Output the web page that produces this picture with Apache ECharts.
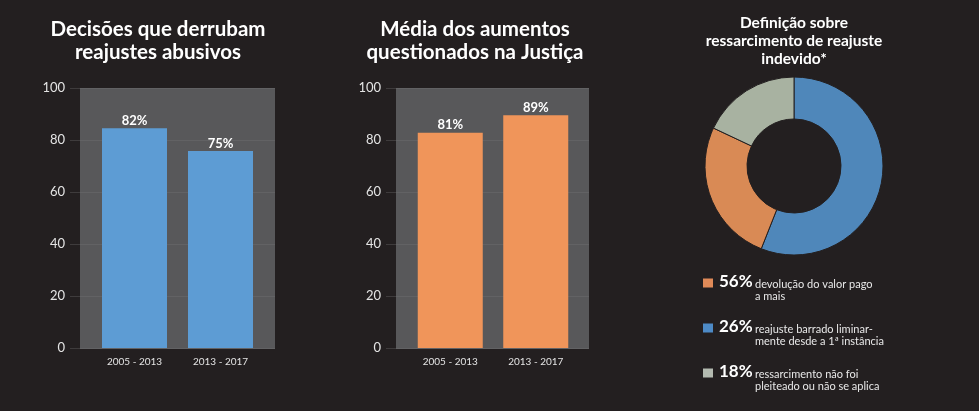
<!DOCTYPE html>
<html>
<head>
    <meta charset="utf-8"/>
    <title>Reajustes abusivos</title>
    <script type="text/javascript" src="https://cdn.jsdelivr.net/npm/echarts@6/dist/echarts.min.js"></script>
    <style>
        html, body { margin: 0; padding: 0; background: #231f20; }
        #main { width: 979px; height: 411px; }
    </style>
</head>
<body>
<div id="main"></div>
<script type="text/javascript">
    // dados
    var categories = ['2005 - 2013', '2013 - 2017'];
    var decisoesValues = [84.5, 75.8];      // altura das barras
    var decisoesLabels = ['82%', '75%'];    // rótulos impressos
    var mediaValues = [82.8, 89.5];
    var mediaLabels = ['81%', '89%'];
    var yMin = 0, yMax = 100, yStep = 20;

    var pieNames = ['devolução do valor pago a mais', 'reajuste barrado liminarmente desde a 1ª instância', 'ressarcimento não foi pleiteado ou não se aplica'];
    var pieValues = [56, 26, 18];
    var pieLines = [
        ['devolução do valor pago', 'a mais'],
        ['reajuste barrado liminar-', 'mente desde a 1ª instância'],
        ['ressarcimento não foi', 'pleiteado ou não se aplica']
    ];
    var pieColors = ['#4f87ba', '#d98a55', '#a8b2a1'];
    var legendColors = ['#e08a58', '#4d8ac6', '#b3bab0'];

    var bg = '#231f20';
    var font = 'Lato';

    var myChart = echarts.init(document.getElementById('main'));

    function valueAxis(idx, visible) {
        if (!visible) {
            return {gridIndex: idx, type: 'value', min: yMin, max: yMax, interval: yStep, show: false};
        }
        return {
            gridIndex: idx, type: 'value', min: yMin, max: yMax, interval: yStep,
            axisLine: {show: false},
            axisTick: {show: true, length: 10, lineStyle: {color: '#3e3b3c'}},
            axisLabel: {color: '#e4e4e4', fontSize: 13, fontFamily: font, margin: 15},
            splitLine: {lineStyle: {color: '#626264', width: 1}}
        };
    }

    function catAxis(idx, visible) {
        if (!visible) {
            return {gridIndex: idx, type: 'category', data: categories, show: false};
        }
        return {
            gridIndex: idx, type: 'category', data: categories,
            axisLine: {show: false},
            axisTick: {show: false},
            axisLabel: {color: '#e4e4e4', fontSize: 10, fontFamily: font, margin: 9}
        };
    }

    function barSeries(idx, values, labels, color) {
        return {
            type: 'bar',
            xAxisIndex: idx, yAxisIndex: idx,
            data: values,
            barWidth: 65,
            itemStyle: {color: color},
            label: {
                show: true, position: 'top', distance: 1,
                color: '#ffffff', fontSize: 13, fontWeight: 'bold', fontFamily: font,
                formatter: function (p) { return labels[p.dataIndex]; }
            },
            silent: true
        };
    }

    var legendData = pieNames.map(function (n, i) {
        return {name: n, itemStyle: {color: legendColors[i]}};
    });

    var titleStyle = {color: '#ffffff', fontSize: 20.5, fontWeight: 'bold', fontFamily: font, lineHeight: 23};

    var option = {
        backgroundColor: bg,
        animation: false,
        title: [
            {
                text: 'Decisões que derrubam\nreajustes abusivos',
                left: 158, top: 18, padding: 0, textAlign: 'center',
                textStyle: titleStyle
            },
            {
                text: 'Média dos aumentos\nquestionados na Justiça',
                left: 475, top: 18, padding: 0, textAlign: 'center',
                textStyle: titleStyle
            },
            {
                text: 'Definição sobre\nressarcimento de reajuste\nindevido*',
                left: 794, top: 14, padding: 0, textAlign: 'center',
                textStyle: {color: '#ffffff', fontSize: 15.5, fontWeight: 'bold', fontFamily: font, lineHeight: 18}
            }
        ],
        grid: [
            {left: 80, top: 88, width: 195, height: 260, show: true, backgroundColor: '#58585a', borderWidth: 0},
            {left: 91.5, top: 88, width: 172, height: 260},
            {left: 396, top: 88, width: 193, height: 260, show: true, backgroundColor: '#58585a', borderWidth: 0},
            {left: 407.5, top: 88, width: 171, height: 260}
        ],
        xAxis: [catAxis(0, false), catAxis(1, true), catAxis(2, false), catAxis(3, true)],
        yAxis: [valueAxis(0, true), valueAxis(1, false), valueAxis(2, true), valueAxis(3, false)],
        legend: {
            orient: 'vertical',
            left: 701, top: 264,
            padding: 0,
            itemWidth: 12, itemHeight: 11,
            itemGap: 7,
            icon: 'rect',
            selectedMode: false,
            data: legendData,
            formatter: function (name) {
                var i = pieNames.indexOf(name);
                return '{e|}\n{p|' + pieValues[i] + '%}{t|' + pieLines[i][0] + '}\n{s|}{t|' + pieLines[i][1] + '}';
            },
            textStyle: {
                color: '#ffffff',
                rich: {
                    e: {height: 12, lineHeight: 12},
                    p: {fontSize: 17, fontWeight: 'bold', fontFamily: font, color: '#ffffff', width: 36, lineHeight: 14, verticalAlign: 'bottom'},
                    s: {width: 36, lineHeight: 12},
                    t: {fontSize: 11, fontFamily: font, color: '#e8e8e8', lineHeight: 12, verticalAlign: 'bottom'}
                }
            }
        },
        series: [
            barSeries(1, decisoesValues, decisoesLabels, '#5d9cd4'),
            barSeries(3, mediaValues, mediaLabels, '#f0955a'),
            {
                type: 'pie',
                center: [794, 166],
                radius: [47, 89],
                startAngle: 90,
                clockwise: true,
                silent: true,
                label: {show: false},
                labelLine: {show: false},
                itemStyle: {borderColor: bg, borderWidth: 1},
                data: pieNames.map(function (n, i) {
                    return {name: n, value: pieValues[i], itemStyle: {color: pieColors[i]}};
                })
            }
        ]
    };
    myChart.setOption(option);
</script>
</body>
</html>
